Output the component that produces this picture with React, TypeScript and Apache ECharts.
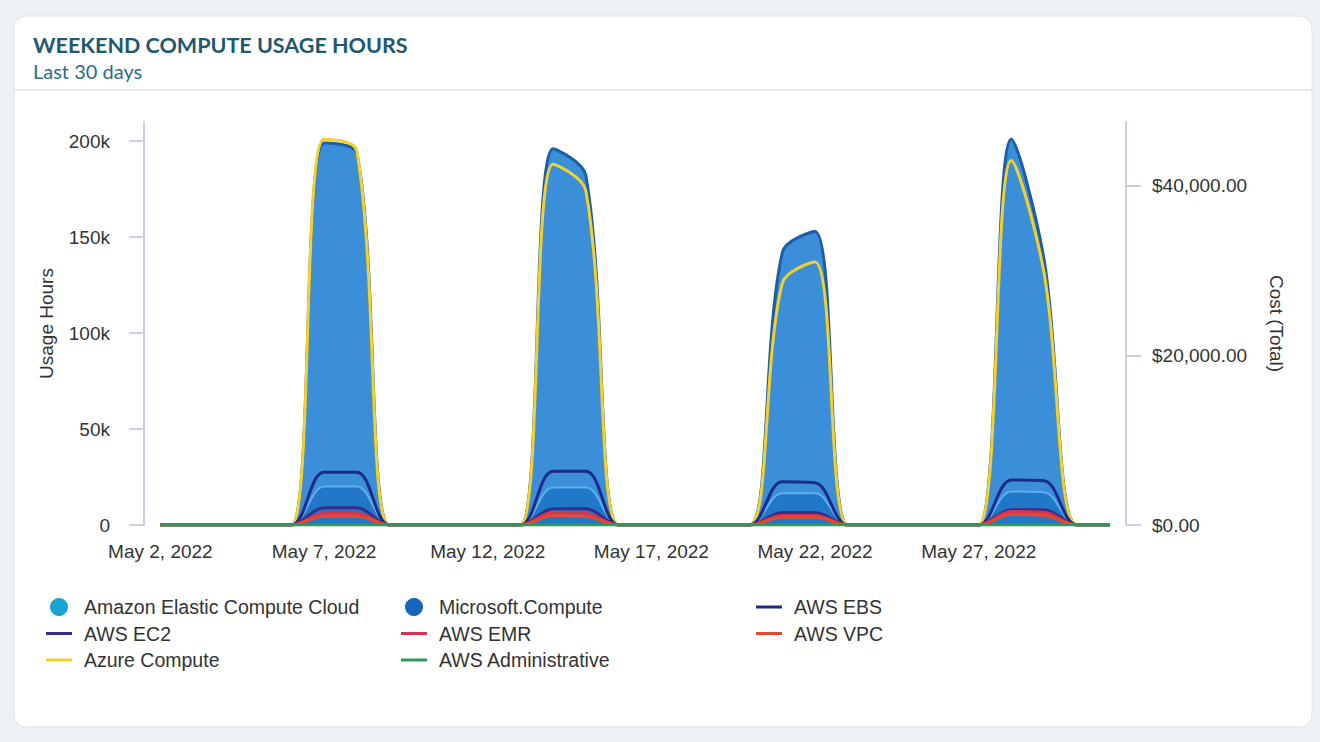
import React, { useEffect, useRef } from "react";
import * as echarts from "echarts";

const days = [
  "May 2, 2022", "May 3, 2022", "May 4, 2022", "May 5, 2022", "May 6, 2022",
  "May 7, 2022", "May 8, 2022", "May 9, 2022", "May 10, 2022", "May 11, 2022",
  "May 12, 2022", "May 13, 2022", "May 14, 2022", "May 15, 2022", "May 16, 2022",
  "May 17, 2022", "May 18, 2022", "May 19, 2022", "May 20, 2022", "May 21, 2022",
  "May 22, 2022", "May 23, 2022", "May 24, 2022", "May 25, 2022", "May 26, 2022",
  "May 27, 2022", "May 28, 2022", "May 29, 2022", "May 30, 2022", "May 31, 2022",
];

// usage hours per day
const microsoftCompute = [0, 0, 0, 0, 0, 199000, 194000, 0, 0, 0, 0, 0, 196000, 182000, 0, 0, 0, 0, 0, 142000, 153000, 0, 0, 0, 0, 0, 201000, 138000, 0, 0];
const amazonEC2Cloud = [0, 0, 0, 0, 0, 20000, 20000, 0, 0, 0, 0, 0, 19500, 19500, 0, 0, 0, 0, 0, 16500, 16500, 0, 0, 0, 0, 0, 17500, 17000, 0, 0];
const azureCompute = [0, 0, 0, 0, 0, 201000, 195000, 0, 0, 0, 0, 0, 188000, 174000, 0, 0, 0, 0, 0, 126000, 137000, 0, 0, 0, 0, 0, 190000, 131000, 0, 0];
const awsEBS = [0, 0, 0, 0, 0, 27500, 27500, 0, 0, 0, 0, 0, 28000, 28000, 0, 0, 0, 0, 0, 22500, 22000, 0, 0, 0, 0, 0, 23500, 23000, 0, 0];
const awsEC2 = [0, 0, 0, 0, 0, 9000, 9000, 0, 0, 0, 0, 0, 8500, 8500, 0, 0, 0, 0, 0, 6500, 6500, 0, 0, 0, 0, 0, 8000, 8000, 0, 0];
const awsEMR = [0, 0, 0, 0, 0, 6000, 6000, 0, 0, 0, 0, 0, 6500, 6000, 0, 0, 0, 0, 0, 5000, 5000, 0, 0, 0, 0, 0, 7000, 6500, 0, 0];
const awsVPC = [0, 0, 0, 0, 0, 4500, 4500, 0, 0, 0, 0, 0, 5000, 4500, 0, 0, 0, 0, 0, 4000, 4000, 0, 0, 0, 0, 0, 5500, 5000, 0, 0];
const awsAdministrative = [0, 0, 0, 0, 0, 0, 0, 0, 0, 0, 0, 0, 0, 0, 0, 0, 0, 0, 0, 0, 0, 0, 0, 0, 0, 0, 0, 0, 0, 0];

const usageTicks = [0, 50000, 100000, 150000, 200000];
const costTicks = [0, 20000, 40000];

const FONT = "'Liberation Sans', Arial, sans-serif";
const LINE_ICON = "path://M0,0 L26,0 L26,3 L0,3 Z";

export default function App() {
  const ref = useRef<HTMLDivElement>(null);

  useEffect(() => {
    document.body.style.margin = "0";
    const chart = echarts.init(ref.current!, null, { renderer: "svg" });

    const lineSeries = (name: string, data: number[], color: string, width = 3) => ({
      name,
      type: "line",
      data,
      smooth: 0.35,
      symbol: "none",
      showSymbol: false,
      itemStyle: { color },
      lineStyle: { color, width },
    });

    const legendText = { fontFamily: FONT, fontSize: 19.5, color: "#333", padding: [0, 0, 0, 7] };
    const legendBase = {
      orient: "vertical",
      top: 597,
      padding: 0,
      itemWidth: 26,
      itemHeight: 18,
      itemGap: 6.5,
      textStyle: legendText,
    };

    chart.setOption({
      animation: false,
      backgroundColor: "#edf1f4",
      graphic: [
        {
          type: "rect",
          shape: { x: 14, y: 16, width: 1298, height: 711, r: 12 },
          style: { fill: "#ffffff", stroke: "#dde3e8", lineWidth: 1 },
          z: -10,
        },
        {
          type: "line",
          shape: { x1: 14, y1: 90, x2: 1312, y2: 90 },
          style: { stroke: "#e3e8ec", lineWidth: 2 },
          z: -9,
        },
      ],
      title: [
        {
          text: "WEEKEND COMPUTE USAGE HOURS",
          left: 33,
          top: 34,
          padding: 0,
          textStyle: { fontFamily: "Lato", fontWeight: "bold", fontSize: 21.5, color: "#1f5870" },
        },
        {
          text: "Last 30 days",
          left: 33,
          top: 61,
          padding: 0,
          textStyle: { fontFamily: "Lato", fontWeight: "normal", fontSize: 20, color: "#2b6d84" },
        },
      ],
      legend: [
        {
          ...legendBase,
          left: 46,
          data: [
            { name: "Amazon Elastic Compute Cloud", icon: "circle" },
            { name: "AWS EC2", icon: LINE_ICON },
            { name: "Azure Compute", icon: LINE_ICON },
          ],
        },
        {
          ...legendBase,
          left: 401,
          data: [
            { name: "Microsoft.Compute", icon: "circle" },
            { name: "AWS EMR", icon: LINE_ICON },
            { name: "AWS Administrative", icon: LINE_ICON },
          ],
        },
        {
          ...legendBase,
          left: 756,
          data: [
            { name: "AWS EBS", icon: LINE_ICON },
            { name: "AWS VPC", icon: LINE_ICON },
          ],
        },
      ],
      grid: { left: 144, right: 194, top: 122, bottom: 217 },
      xAxis: {
        type: "category",
        data: days,
        boundaryGap: true,
        axisLine: { show: false },
        axisTick: { show: false },
        axisLabel: { interval: 4, margin: 17, fontFamily: FONT, fontSize: 19, color: "#333" },
      },
      yAxis: [
        {
          type: "value",
          min: 0,
          max: 210000,
          interval: 50000,
          position: "left",
          name: "Usage Hours",
          nameLocation: "middle",
          nameGap: 88,
          nameTextStyle: { fontFamily: FONT, fontSize: 19, color: "#333" },
          axisLine: { show: true, lineStyle: { color: "#c9cee6", width: 2 } },
          axisTick: { show: true, length: 15, lineStyle: { color: "#c9cee6", width: 2 }, customValues: usageTicks },
          splitLine: { show: false },
          axisLabel: {
            margin: 34,
            fontFamily: FONT,
            fontSize: 19,
            color: "#333",
            customValues: usageTicks,
            formatter: (v: number) => (v === 0 ? "0" : v / 1000 + "k"),
          },
        },
        {
          type: "value",
          min: 0,
          max: 47550,
          position: "right",
          name: "Cost (Total)",
          nameLocation: "middle",
          nameRotate: -90,
          nameGap: 141,
          nameTextStyle: { fontFamily: FONT, fontSize: 19, color: "#333" },
          axisLine: { show: true, lineStyle: { color: "#c9cee6", width: 2 } },
          axisTick: { show: true, length: 15, lineStyle: { color: "#c9cee6", width: 2 }, customValues: costTicks },
          splitLine: { show: false },
          axisLabel: {
            margin: 26,
            fontFamily: FONT,
            fontSize: 19,
            color: "#333",
            customValues: costTicks,
            formatter: (v: number) =>
              "$" + v.toLocaleString("en-US", { minimumFractionDigits: 2, maximumFractionDigits: 2 }),
          },
        },
      ],
      series: [
        {
          name: "Microsoft.Compute",
          type: "line",
          data: microsoftCompute,
          smooth: 0.35,
          symbol: "none",
          showSymbol: false,
          itemStyle: { color: "#1565b8" },
          lineStyle: { color: "#1b5da8", width: 3 },
          areaStyle: { color: "#3b8ed8", opacity: 1 },
        },
        {
          name: "Amazon Elastic Compute Cloud",
          type: "line",
          data: amazonEC2Cloud,
          smooth: 0.35,
          symbol: "none",
          showSymbol: false,
          itemStyle: { color: "#1ba3d3" },
          lineStyle: { color: "#5fb0ea", width: 2 },
          areaStyle: { color: "#2278c8", opacity: 1 },
        },
        lineSeries("Azure Compute", azureCompute, "#f4d02c", 3),
        lineSeries("AWS EBS", awsEBS, "#1c2a8c", 3),
        lineSeries("AWS EC2", awsEC2, "#3a2d88", 3),
        lineSeries("AWS EMR", awsEMR, "#d8344d", 3),
        lineSeries("AWS VPC", awsVPC, "#e2492d", 3),
        lineSeries("AWS Administrative", awsAdministrative, "#2f9a57", 3),
      ],
    });

    return () => chart.dispose();
  }, []);

  return <div ref={ref} style={{ position: "fixed", left: 0, top: 0, width: 1320, height: 742 }} />;
}
